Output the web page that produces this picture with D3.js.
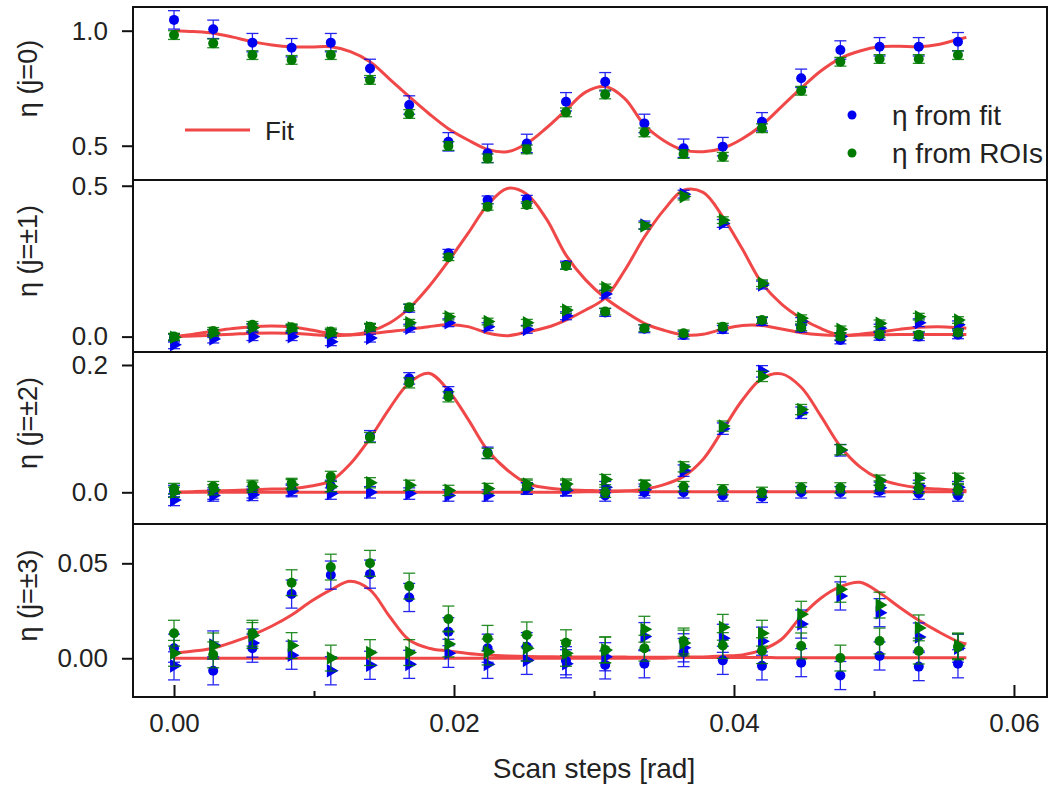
<!DOCTYPE html>
<html>
<head>
<meta charset="utf-8">
<script src="https://cdn.jsdelivr.net/npm/d3@7/dist/d3.min.js"></script>
<style>
    body { margin: 0; background: #fff; }
    svg text { font-family: Arial, "Liberation Sans", sans-serif; fill: #222; }
</style>
</head>
<body>
<svg id="chart" width="1050" height="787"></svg>
<script>
    // scan positions of the measured points [rad]
    var steps = [0, 0.0028, 0.0056, 0.0084, 0.0112, 0.014, 0.0168, 0.0196, 0.0224, 0.0252, 0.028,
        0.0308, 0.0336, 0.0364, 0.0392, 0.042, 0.0448, 0.0476, 0.0504, 0.0532, 0.056];

    var fitX = [0, 0.0014, 0.0028, 0.0042, 0.0056, 0.007, 0.0084, 0.0098, 0.0112, 0.0126, 0.014,
        0.0154, 0.0168, 0.0182, 0.0196, 0.021, 0.0224, 0.0238, 0.0252, 0.0266, 0.028,
        0.0294, 0.0308, 0.0322, 0.0336, 0.035, 0.0364, 0.0378, 0.0392, 0.0406, 0.042,
        0.0434, 0.0448, 0.0462, 0.0476, 0.049, 0.0504, 0.0518, 0.0532, 0.0546, 0.056, 0.0566];

    // j = 0
    var j0FitBlue = [1.047, 1.006, 0.948, 0.926, 0.948, 0.836, 0.677, 0.517, 0.467, 0.510, 0.691,
        0.778, 0.597, 0.489, 0.496, 0.604, 0.793, 0.916, 0.930, 0.930, 0.952];
    var j0RoiGreen = [0.981, 0.945, 0.894, 0.873, 0.894, 0.786, 0.638, 0.499, 0.445, 0.484, 0.645,
        0.723, 0.558, 0.464, 0.452, 0.576, 0.739, 0.865, 0.877, 0.877, 0.894];
    var j0Fit = [1.000, 0.996, 0.989, 0.972, 0.952, 0.938, 0.930, 0.929, 0.930, 0.909, 0.865,
        0.790, 0.713, 0.640, 0.574, 0.525, 0.484, 0.474, 0.510, 0.577, 0.655,
        0.733, 0.757, 0.705, 0.590, 0.522, 0.481, 0.474, 0.489, 0.530, 0.590,
        0.670, 0.750, 0.825, 0.880, 0.912, 0.930, 0.932, 0.930, 0.940, 0.962, 0.971];

    // j = ±1 (circles: first peak, triangles: second peak)
    var j1CircleBlue = [-0.005, 0.010, 0.030, 0.025, 0.010, 0.030, 0.094, 0.276, 0.453, 0.455, 0.237,
        0.080, 0.026, 0.005, 0.024, 0.050, 0.028, -0.011, 0.001, 0.000, 0.006];
    var j1CircleGreen = [0.000, 0.019, 0.039, 0.031, 0.017, 0.033, 0.097, 0.263, 0.430, 0.436, 0.234,
        0.083, 0.028, 0.011, 0.033, 0.055, 0.031, 0.000, 0.008, 0.006, 0.014];
    var j1TriBlue = [-0.027, -0.008, 0.000, 0.000, -0.017, -0.005, 0.028, 0.046, 0.033, 0.024, 0.069,
        0.141, 0.370, 0.472, 0.375, 0.171, 0.050, 0.000, 0.028, 0.046, 0.039];
    var j1TriGreen = [-0.002, 0.012, 0.030, 0.028, 0.012, 0.030, 0.046, 0.066, 0.050, 0.046, 0.088,
        0.163, 0.367, 0.464, 0.386, 0.177, 0.061, 0.024, 0.044, 0.066, 0.055];
    var j1FitA = [0.000, 0.008, 0.018, 0.027, 0.033, 0.035, 0.032, 0.022, 0.010, 0.006, 0.017,
        0.045, 0.094, 0.165, 0.250, 0.342, 0.436, 0.491, 0.472, 0.390, 0.270,
        0.188, 0.128, 0.083, 0.044, 0.021, 0.006, 0.008, 0.025, 0.037, 0.037,
        0.025, 0.013, 0.006, 0.004, 0.005, 0.006, 0.007, 0.007, 0.007, 0.007, 0.007];
    var j1FitB = [0.000, 0.002, 0.005, 0.008, 0.011, 0.012, 0.011, 0.007, 0.003, 0.005, 0.010,
        0.017, 0.024, 0.033, 0.039, 0.033, 0.012, 0.003, 0.015, 0.030, 0.055,
        0.088, 0.128, 0.220, 0.330, 0.420, 0.485, 0.478, 0.397, 0.290, 0.177,
        0.108, 0.061, 0.027, 0.005, 0.008, 0.015, 0.024, 0.031, 0.033, 0.030, 0.028];

    // j = ±2
    var j2CircleBlue = [0.002, -0.002, 0.000, 0.004, 0.010, 0.088, 0.179, 0.157, 0.062, 0.006, 0.004,
        -0.005, 0.000, 0.000, -0.005, -0.007, 0.000, 0.000, 0.002, -0.002, -0.005];
    var j2CircleGreen = [0.006, 0.009, 0.011, 0.014, 0.025, 0.086, 0.172, 0.150, 0.061, 0.011, 0.011,
        0.000, 0.011, 0.009, 0.004, 0.000, 0.007, 0.007, 0.010, 0.006, 0.004];
    var j2TriBlue = [-0.012, -0.005, -0.004, 0.002, -0.002, 0.000, -0.002, -0.005, -0.005, 0.006, 0.003,
        0.008, 0.004, 0.034, 0.100, 0.190, 0.125, 0.066, 0.007, 0.010, 0.008];
    var j2TriGreen = [0.000, 0.004, 0.008, 0.012, 0.009, 0.015, 0.011, 0.003, 0.006, 0.013, 0.013,
        0.020, 0.011, 0.040, 0.104, 0.182, 0.130, 0.067, 0.019, 0.022, 0.022];
    var j2FitA = [0.000, 0.001, 0.002, 0.003, 0.004, 0.005, 0.006, 0.010, 0.018, 0.045, 0.085,
        0.132, 0.172, 0.187, 0.160, 0.115, 0.066, 0.035, 0.014, 0.007, 0.004,
        0.003, 0.002, 0.002, 0.001, 0.001, 0.001, 0.001, 0.001, 0.001, 0.001,
        0.001, 0.001, 0.001, 0.001, 0.001, 0.001, 0.001, 0.001, 0.001, 0.001, 0.001];
    var j2FitB = [0.000, 0.000, 0.000, 0.000, 0.000, 0.000, 0.000, 0.000, 0.000, 0.000, 0.000,
        0.000, 0.000, 0.000, 0.000, 0.000, 0.000, 0.000, 0.000, 0.000, 0.000,
        0.001, 0.001, 0.002, 0.005, 0.012, 0.025, 0.052, 0.098, 0.145, 0.179,
        0.186, 0.165, 0.120, 0.072, 0.040, 0.021, 0.012, 0.007, 0.005, 0.003, 0.003];

    // j = ±3
    var j3CircleBlue = [0.0053, -0.0066, 0.0053, 0.0338, 0.0438, 0.0443, 0.0320, 0.0140, 0.0053, 0.0061, -0.0013,
        -0.0035, -0.0029, 0.0030, -0.0011, -0.0040, -0.0023, -0.0091, 0.0012, -0.0044, -0.0029];
    var j3CircleGreen = [0.0132, 0.0018, 0.0132, 0.0398, 0.0480, 0.0500, 0.0380, 0.0207, 0.0105, 0.0123, 0.0082,
        0.0044, 0.0053, 0.0091, 0.0067, 0.0040, 0.0065, 0.0001, 0.0091, 0.0038, 0.0060];
    var j3TriBlue = [-0.0040, 0.0070, 0.0080, 0.0016, -0.0066, -0.0037, -0.0032, 0.0026, -0.0032, -0.0011, -0.0029,
        0.0008, 0.0114, 0.0055, 0.0105, 0.0090, 0.0180, 0.0328, 0.0240, 0.0112, 0.0053];
    var j3TriGreen = [0.0026, 0.0065, 0.0120, 0.0067, 0.0001, 0.0030, 0.0030, 0.0075, 0.0033, 0.0053, 0.0026,
        0.0044, 0.0153, 0.0080, 0.0163, 0.0132, 0.0232, 0.0363, 0.0280, 0.0160, 0.0065];
    var j3FitA = [0.0026, 0.0038, 0.0053, 0.0085, 0.0123, 0.0170, 0.0228, 0.0300, 0.0360, 0.0405, 0.0360,
        0.0220, 0.0096, 0.0053, 0.0038, 0.0025, 0.0017, 0.0012, 0.0009, 0.0008, 0.0007,
        0.0007, 0.0006, 0.0006, 0.0005, 0.0005, 0.0005, 0.0004, 0.0004, 0.0004, 0.0004,
        0.0003, 0.0003, 0.0003, 0.0003, 0.0003, 0.0003, 0.0003, 0.0003, 0.0003, 0.0003, 0.0003];
    var j3FitB = [0, 0, 0, 0, 0, 0, 0, 0, 0, 0, 0,
        0, 0, 0, 0, 0, 0, 0, 0, 0, 0,
        0, 0, 0, 0, 0, 0.0005, 0.0007, 0.0012, 0.0017, 0.0044,
        0.0100, 0.0220, 0.0316, 0.0377, 0.0400, 0.0345, 0.0270, 0.0200, 0.0140, 0.0088, 0.0075];

    // half-length of the error bars, per panel
    var errBlue = [0.040, 0.013, 0.009, 0.0074];
    var errGreen = [0.019, 0.011, 0.008, 0.0068];

    var panelLabels = ["η (j=0)", "η (j=±1)", "η (j=±2)", "η (j=±3)"];
    var panelTicks = [[0.5, 1.0], [0.0, 0.5], [0.0, 0.2], [0.00, 0.05]];
    var tickFormats = [".1f", ".1f", ".1f", ".2f"];
    var xTicks = [0, 0.02, 0.04, 0.06];
    var xMinorTicks = [0.01, 0.03, 0.05];

    var blue = "#0000f0", green = "#007a00", red = "#f04848";

    var svg = d3.select("#chart");
    var left = 133, right = 1047;
    var tops = [7, 180, 352, 524, 697];       // panel borders

    var x = d3.scaleLinear().domain([-0.00293, 0.06236]).range([left, right]);

    var panels = [
        {domain: [0.351, 1.103], fits: [j0Fit],
         sets: [{v: j0FitBlue, c: blue, s: "circle", e: errBlue[0]}, {v: j0RoiGreen, c: green, s: "circle", e: errGreen[0]}]},
        {domain: [-0.051, 0.519], fits: [j1FitA, j1FitB],
         sets: [{v: j1CircleBlue, c: blue, s: "circle", e: errBlue[1]}, {v: j1TriBlue, c: blue, s: "tri", e: errBlue[1]},
                {v: j1CircleGreen, c: green, s: "circle", e: errGreen[1]}, {v: j1TriGreen, c: green, s: "tri", e: errGreen[1]}]},
        {domain: [-0.0498, 0.2204], fits: [j2FitA, j2FitB],
         sets: [{v: j2CircleBlue, c: blue, s: "circle", e: errBlue[2]}, {v: j2TriBlue, c: blue, s: "tri", e: errBlue[2]},
                {v: j2CircleGreen, c: green, s: "circle", e: errGreen[2]}, {v: j2TriGreen, c: green, s: "tri", e: errGreen[2]}]},
        {domain: [-0.0204, 0.0707], fits: [j3FitA, j3FitB],
         sets: [{v: j3CircleBlue, c: blue, s: "circle", e: errBlue[3]}, {v: j3TriBlue, c: blue, s: "tri", e: errBlue[3]},
                {v: j3CircleGreen, c: green, s: "circle", e: errGreen[3]}, {v: j3TriGreen, c: green, s: "tri", e: errGreen[3]}]}
    ];

    var triangle = d3.symbol().type(d3.symbolTriangle).size(80);

    panels.forEach(function(p, pi){
        var y = d3.scaleLinear().domain(p.domain).range([tops[pi + 1], tops[pi]]);
        var g = svg.append("g").classed("panel", true);

        var line = d3.line()
            .x(function(d){ return x(d[0]); })
            .y(function(d){ return y(d[1]); })
            .curve(d3.curveCatmullRom.alpha(0.5));

        // fit curves under the points
        p.fits.forEach(function(f){
            g.append("path")
                .attr("d", line(fitX.map(function(xv, i){ return [xv, f[i]]; })))
                .attr("fill", "none")
                .attr("stroke", red)
                .attr("stroke-width", 3);
        });

        p.sets.forEach(function(set){
            var pts = steps.map(function(xv, i){ return {x: xv, v: set.v[i]}; });
            var sg = g.append("g");

            // error bars
            var eb = sg.selectAll(".err").data(pts).enter().append("g")
                .attr("stroke", set.c).attr("stroke-width", 1.3).attr("opacity", 0.85);
            eb.append("line")
                .attr("x1", function(d){ return x(d.x); }).attr("x2", function(d){ return x(d.x); })
                .attr("y1", function(d){ return y(d.v - set.e); }).attr("y2", function(d){ return y(d.v + set.e); });
            eb.append("line")
                .attr("x1", function(d){ return x(d.x) - 6; }).attr("x2", function(d){ return x(d.x) + 6; })
                .attr("y1", function(d){ return y(d.v + set.e); }).attr("y2", function(d){ return y(d.v + set.e); });
            eb.append("line")
                .attr("x1", function(d){ return x(d.x) - 6; }).attr("x2", function(d){ return x(d.x) + 6; })
                .attr("y1", function(d){ return y(d.v - set.e); }).attr("y2", function(d){ return y(d.v - set.e); });

            // markers
            if(set.s === "circle"){
                sg.selectAll(".pt").data(pts).enter().append("circle")
                    .attr("cx", function(d){ return x(d.x); })
                    .attr("cy", function(d){ return y(d.v); })
                    .attr("r", 5)
                    .attr("fill", set.c);
            } else {
                sg.selectAll(".pt").data(pts).enter().append("path")
                    .attr("d", triangle)
                    .attr("transform", function(d){ return "translate(" + x(d.x) + "," + y(d.v) + ") rotate(90)"; })
                    .attr("fill", set.c);
            }
        });

        // frame
        g.append("rect")
            .attr("x", left).attr("y", tops[pi])
            .attr("width", right - left).attr("height", tops[pi + 1] - tops[pi])
            .attr("fill", "none").attr("stroke", "#111").attr("stroke-width", 2);

        // y axis
        var ya = g.append("g")
            .attr("transform", "translate(" + left + ",0)")
            .call(d3.axisLeft(y).tickValues(panelTicks[pi]).tickSize(11).tickPadding(14)
                .tickFormat(d3.format(tickFormats[pi])));
        ya.select(".domain").remove();
        ya.selectAll("line").attr("stroke", "#111").attr("stroke-width", 2);
        ya.selectAll("text").attr("font-size", 26).attr("font-family", null).attr("fill", "#222");

        // y label
        g.append("text")
            .attr("transform", "translate(28," + ((tops[pi] + tops[pi + 1]) / 2 - 15) + ") rotate(-90)")
            .attr("text-anchor", "middle")
            .attr("dy", "0.35em")
            .attr("font-size", 27)
            .attr("fill", "#444")
            .text(panelLabels[pi]);
    });

    // x axis, ticks pointing inside
    var xa = svg.append("g")
        .attr("transform", "translate(0," + tops[4] + ")")
        .call(d3.axisBottom(x).tickValues(xTicks).tickSizeInner(-12).tickSizeOuter(0).tickPadding(17)
            .tickFormat(d3.format(".2f")));
    xa.select(".domain").remove();
    xa.selectAll("line").attr("stroke", "#111").attr("stroke-width", 2);
    xa.selectAll("text").attr("font-size", 26).attr("font-family", null).attr("fill", "#222");

    var xm = svg.append("g")
        .attr("transform", "translate(0," + tops[4] + ")")
        .call(d3.axisBottom(x).tickValues(xMinorTicks).tickSizeInner(-6).tickSizeOuter(0).tickFormat(""));
    xm.select(".domain").remove();
    xm.selectAll("line").attr("stroke", "#111").attr("stroke-width", 2);

    svg.append("text")
        .attr("x", 594).attr("y", 778)
        .attr("text-anchor", "middle")
        .attr("font-size", 28)
        .attr("fill", "#333")
        .text("Scan steps [rad]");

    // legends
    svg.append("line")
        .attr("x1", 185).attr("x2", 250).attr("y1", 130).attr("y2", 130)
        .attr("stroke", red).attr("stroke-width", 3);
    svg.append("text")
        .attr("x", 265).attr("y", 140)
        .attr("font-size", 26)
        .text("Fit");

    var legendItems = [{label: "η from fit", c: blue, y: 115}, {label: "η from ROIs", c: green, y: 153}];
    var lg = svg.selectAll(".legend").data(legendItems).enter().append("g").classed("legend", true);
    lg.append("circle")
        .attr("cx", 852).attr("cy", function(d){ return d.y; })
        .attr("r", 4.5).attr("fill", function(d){ return d.c; });
    lg.append("text")
        .attr("x", 892).attr("y", function(d){ return d.y; })
        .attr("dy", "0.35em")
        .attr("font-size", 28)
        .attr("fill", "#333")
        .text(function(d){ return d.label; });
</script>
</body>
</html>
